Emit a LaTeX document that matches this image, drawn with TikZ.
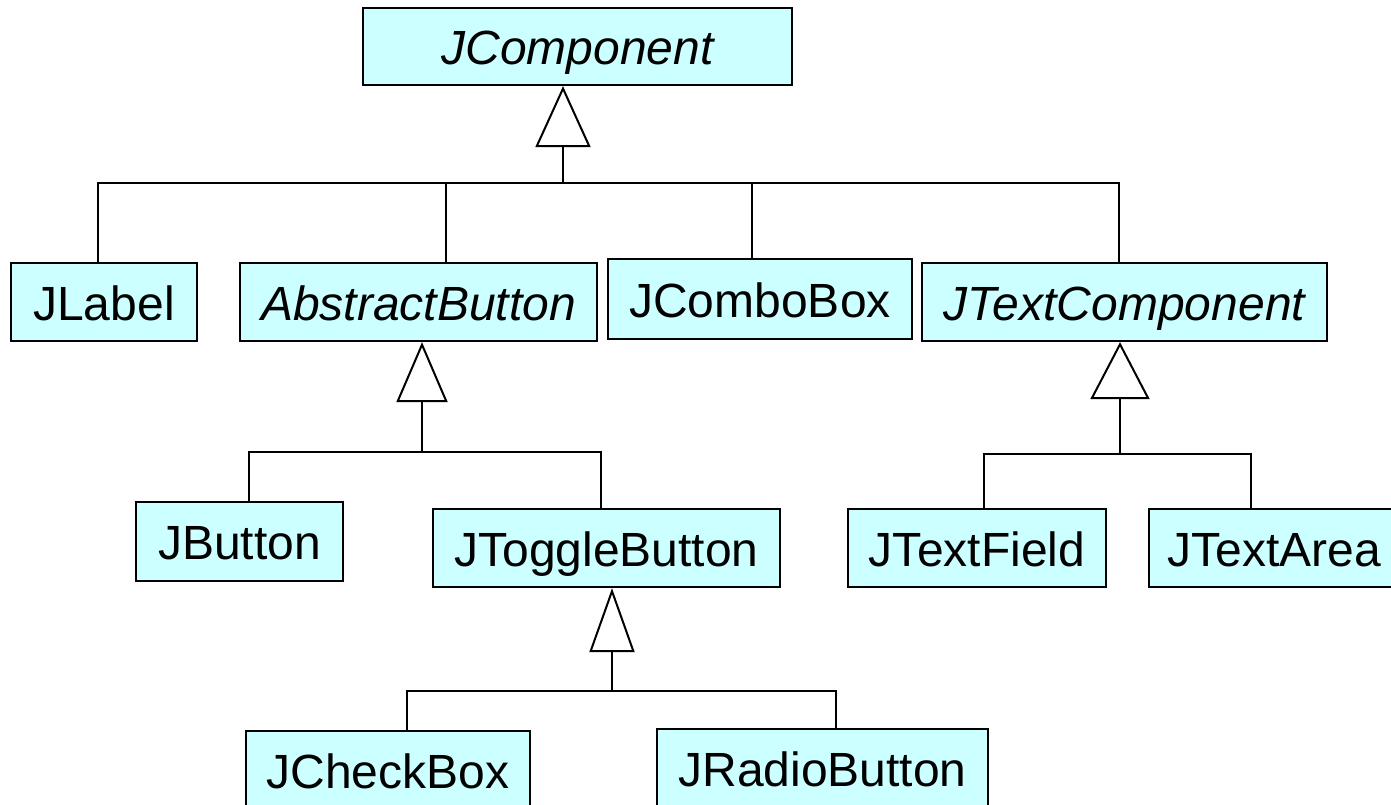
\documentclass[tikz,border=0pt]{standalone}
\usepackage{fontspec}
\setmainfont{Liberation Sans}
\usetikzlibrary{arrows.meta}
\definecolor{boxfill}{HTML}{CCFFFF}
\tikzset{
  cls/.style={draw=black, line width=2.2pt, fill=boxfill, inner sep=0pt,
    font=\fontsize{48}{52}\selectfont, text height=39pt, text depth=3pt},
  abs/.style={cls, font=\fontsize{48}{52}\selectfont\itshape},
  link/.style={line width=2pt, line cap=rect},
}
\begin{document}
\begin{tikzpicture}[x=1pt,y=-1pt]
\clip (0,0) rectangle (1391,805);
\fill[white] (0,0) rectangle (1391,805);

% classes
\node[abs, minimum width=429pt, minimum height=77pt] (comp) at (577.5,46.5) {JComponent};
\node[cls, minimum width=186pt, minimum height=78pt] (lab)  at (104,302) {JLabel};
\node[abs, minimum width=357pt, minimum height=78pt] (absb) at (418.5,302) {AbstractButton};
\node[cls, minimum width=304pt, minimum height=80pt] (combo) at (760,299) {JComboBox};
\node[abs, minimum width=405pt, minimum height=78pt] (tcomp) at (1124.5,302) {JTextComponent};
\node[cls, minimum width=207pt, minimum height=79pt] (btn) at (239.5,541.5) {JButton};
\node[cls, minimum width=347pt, minimum height=78pt] (tog) at (606.5,548) {JToggleButton};
\node[cls, minimum width=258pt, minimum height=78pt] (tf) at (977,548) {JTextField};
\node[cls, minimum width=251pt, minimum height=78pt] (ta) at (1274.5,548) {JTextArea};
\node[cls, minimum width=284pt, minimum height=78pt] (chk) at (388,770) {JCheckBox};
\node[cls, minimum width=331pt, minimum height=78pt] (rad) at (822.5,768) {JRadioButton};

% junction coordinates
\coordinate (j1) at (563,183);
\coordinate (b1L) at (98,183);
\coordinate (b1R) at (1119,183);
\coordinate (d1) at (446,183);
\coordinate (d2) at (752,183);
\coordinate (j2) at (422,452);
\coordinate (b2L) at (249,452);
\coordinate (b2R) at (601,452);
\coordinate (j3) at (1120,454);
\coordinate (b3L) at (984,454);
\coordinate (b3R) at (1251,454);
\coordinate (j4) at (612,691);
\coordinate (b4L) at (407,691);
\coordinate (b4R) at (836,691);

% inheritance arrows
\draw[line width=2pt, -{Triangle[open, length=61pt, width=55pt]}] (j1) -- (j1 |- comp.south);
\draw[line width=2pt, -{Triangle[open, length=60pt, width=51pt]}] (j2) -- (j2 |- absb.south);
\draw[line width=2pt, -{Triangle[open, length=57pt, width=59pt]}] (j3) -- (j3 |- tcomp.south);
\draw[line width=2pt, -{Triangle[open, length=64pt, width=45pt]}] (j4) -- (j4 |- tog.south);

% bars and drops
\draw[link] (b1L) -- (b1R);
\draw[link] (b1L) -- (b1L |- lab.north);
\draw[link] (d1) -- (d1 |- absb.north);
\draw[link] (d2) -- (d2 |- combo.north);
\draw[link] (b1R) -- (b1R |- tcomp.north);

\draw[link] (b2L) -- (b2R);
\draw[link] (b2L) -- (b2L |- btn.north);
\draw[link] (b2R) -- (b2R |- tog.north);

\draw[link] (b3L) -- (b3R);
\draw[link] (b3L) -- (b3L |- tf.north);
\draw[link] (b3R) -- (b3R |- ta.north);

\draw[link] (b4L) -- (b4R);
\draw[link] (b4L) -- (b4L |- chk.north);
\draw[link] (b4R) -- (b4R |- rad.north);
\end{tikzpicture}
\end{document}
